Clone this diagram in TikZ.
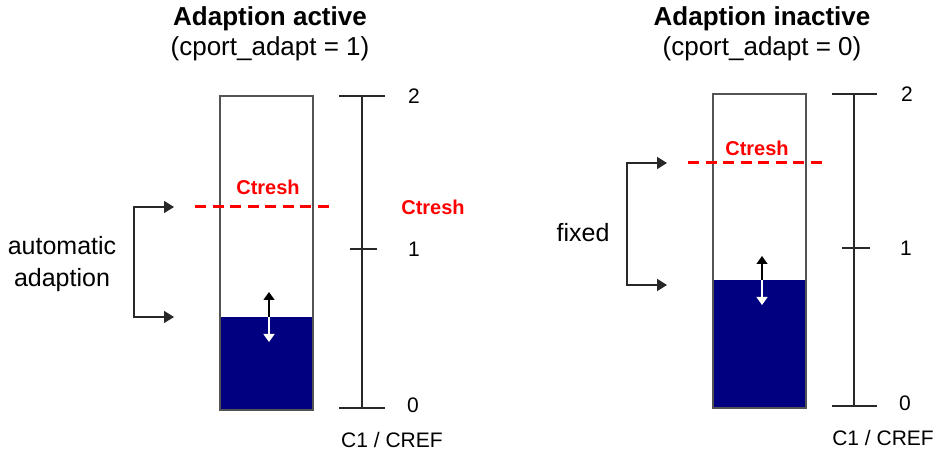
\documentclass[tikz,border=0pt]{standalone}
\usepackage{fontspec}
\setmainfont{Liberation Sans}
\usetikzlibrary{arrows.meta}
\definecolor{barnavy}{RGB}{0,0,128}
\definecolor{linegray}{RGB}{40,40,40}
\definecolor{ctred}{RGB}{255,0,0}
\tikzset{
  title/.style={align=center, font=\fontsize{26}{30}\selectfont},
  sidetext/.style={align=center, font=\fontsize{25}{32}\selectfont},
  ctlabel/.style={text=ctred, font=\fontsize{20}{24}\selectfont\bfseries},
  scalelabel/.style={font=\fontsize{21}{25}\selectfont},
  scaleline/.style={draw=linegray, line width=1.6pt},
  barbox/.style={draw=linegray!80, line width=1.3pt},
  thresh/.style={draw=ctred, line width=3pt, dash pattern=on 11pt off 6.5pt},
  bracket/.style={draw=linegray, line width=1.6pt, -{Triangle[length=10pt,width=12pt]}},
  levelup/.style={draw=black, line width=1.4pt, -{Triangle[length=8pt,width=11pt]}},
  leveldown/.style={draw=white, line width=1.4pt, -{Triangle[length=8pt,width=11pt]}}
}
\begin{document}
\begin{tikzpicture}[x=1pt,y=1pt]
  \useasboundingbox (0,0) rectangle (936,455);

  % Adaption active
  \node[title] (titleA) at (270,421) {\textbf{Adaption active}\\(cport\_adapt = 1)};
  \fill[barnavy] (220,45) rectangle (313,138);
  \draw[barbox] (220,45) rectangle (313,359);
  \coordinate (threshAl) at (195,248);
  \coordinate (threshAr) at (332,248);
  \draw[thresh] (threshAl) -- (threshAr);
  \node[ctlabel] (ctInA) at (268,268) {Ctresh};
  \node[ctlabel] (ctOutA) at (433,248) {Ctresh};
  % scale
  \coordinate (scTopA) at (362,359);
  \coordinate (scBotA) at (362,47);
  \draw[scaleline] (scTopA) -- (scBotA);
  \draw[scaleline] (339,359) -- (385,359);
  \draw[scaleline] (350,206) -- (377,206);
  \draw[scaleline] (339,47) -- (385,47);
  \node[scalelabel] (twoA) at (414,359) {2};
  \node[scalelabel] (oneA) at (414,206) {1};
  \node[scalelabel] (zeroA) at (413,50) {0};
  \node[scalelabel] (unitA) at (392,15) {C1 / CREF};
  % bracket
  \node[sidetext] (autoA) at (62,191) {automatic\\adaption};
  \coordinate (brTopA) at (134,248);
  \coordinate (brBotA) at (134,138);
  \coordinate (brTopEndA) at (174,248);
  \coordinate (brBotEndA) at (174,138);
  \draw[bracket] (brBotA) -- (brTopA) -- (brTopEndA);
  \draw[bracket] (brTopA) -- (brBotA) -- (brBotEndA);
  % level arrows
  \coordinate (lvA) at (269,138);
  \coordinate (lvUpA) at (269,163);
  \coordinate (lvDnA) at (269,113);
  \draw[levelup] (lvA) -- (lvUpA);
  \draw[leveldown] (lvA) -- (lvDnA);

  % Adaption inactive
  \node[title] (titleB) at (762,421) {\textbf{Adaption inactive}\\(cport\_adapt = 0)};
  \fill[barnavy] (713,47) rectangle (806,175);
  \draw[barbox] (713,47) rectangle (806,361);
  \coordinate (threshBl) at (688,292);
  \coordinate (threshBr) at (826,292);
  \draw[thresh] (threshBl) -- (threshBr);
  \node[ctlabel] (ctInB) at (757,307) {Ctresh};
  % scale
  \coordinate (scTopB) at (854,361);
  \coordinate (scBotB) at (854,49);
  \draw[scaleline] (scTopB) -- (scBotB);
  \draw[scaleline] (832,361) -- (877,361);
  \draw[scaleline] (842,207) -- (870,207);
  \draw[scaleline] (832,49) -- (877,49);
  \node[scalelabel] (twoB) at (907,361) {2};
  \node[scalelabel] (oneB) at (906,207) {1};
  \node[scalelabel] (zeroB) at (905,52) {0};
  \node[scalelabel] (unitB) at (883,17) {C1 / CREF};
  % bracket
  \node[sidetext] (fixedB) at (583,222) {fixed};
  \coordinate (brTopB) at (627,292);
  \coordinate (brBotB) at (627,170);
  \coordinate (brTopEndB) at (667,292);
  \coordinate (brBotEndB) at (667,170);
  \draw[bracket] (brBotB) -- (brTopB) -- (brTopEndB);
  \draw[bracket] (brTopB) -- (brBotB) -- (brBotEndB);
  % level arrows
  \coordinate (lvB) at (762,175);
  \coordinate (lvUpB) at (762,199);
  \coordinate (lvDnB) at (762,150);
  \draw[levelup] (lvB) -- (lvUpB);
  \draw[leveldown] (lvB) -- (lvDnB);
\end{tikzpicture}
\end{document}
